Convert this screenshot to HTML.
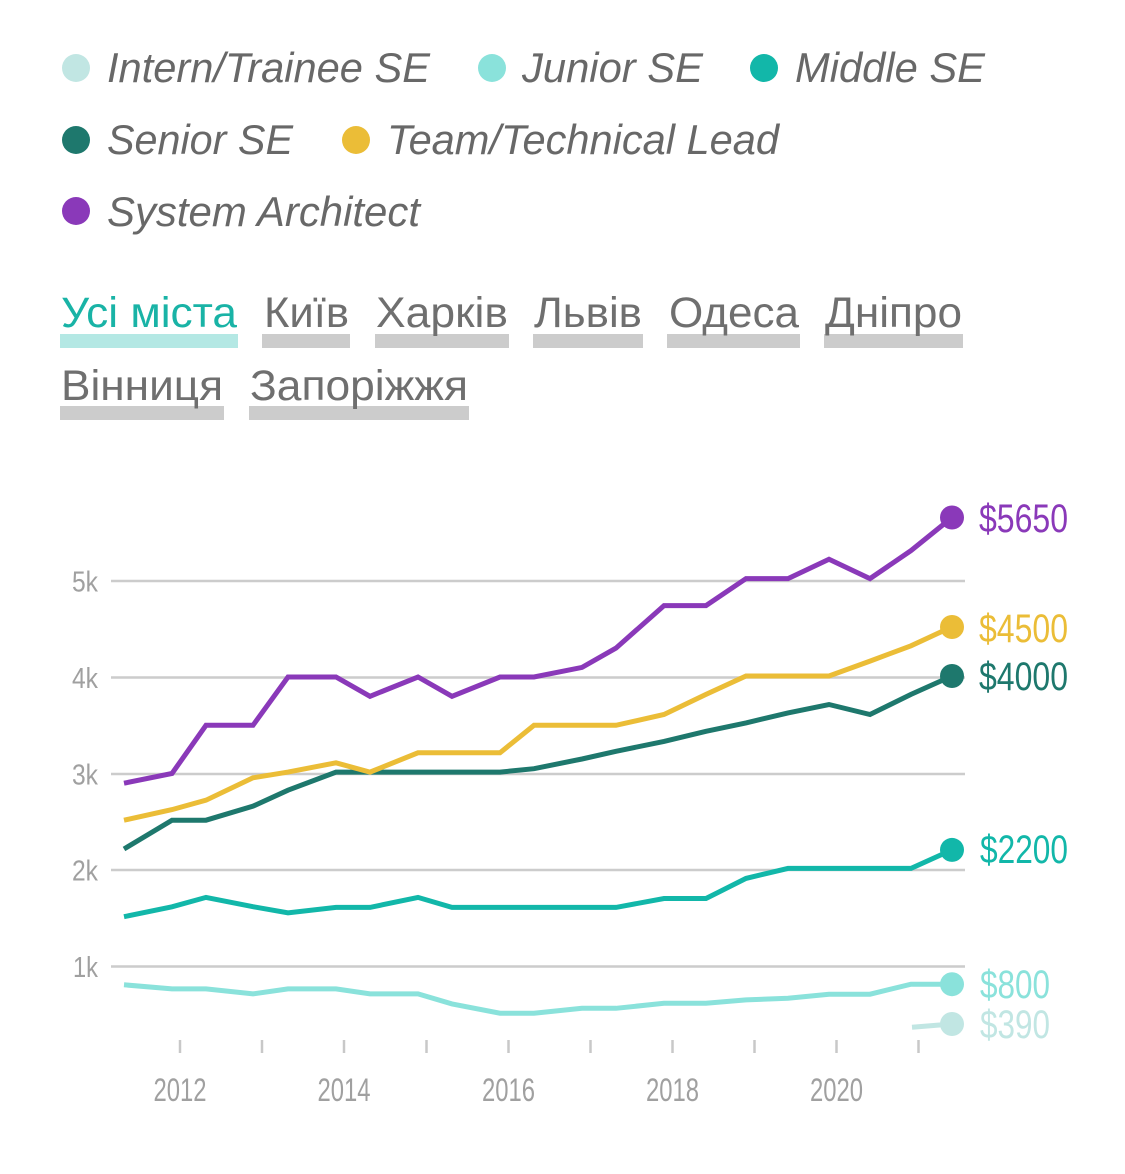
<!DOCTYPE html>
<html><head><meta charset="utf-8"><style>
html,body{margin:0;padding:0;background:#fff;}
svg{display:block;}
.lg{font-family:"Liberation Sans",Arial,sans-serif;font-style:italic;font-size:41.5px;fill:#686868;}
.tb{font-family:"Liberation Sans",Arial,sans-serif;font-size:43px;fill:#6f6f6f;}
.ax{font-family:"Liberation Sans Narrow","Liberation Sans",sans-serif;fill:#a0a0a0;}
.vl{font-family:"Liberation Sans Narrow","Liberation Sans",sans-serif;font-size:40px;}
</style></head><body>
<svg width="1125" height="1174" viewBox="0 0 1125 1174" xmlns="http://www.w3.org/2000/svg">
<rect width="1125" height="1174" fill="#fff"/>
<!-- Legend -->
<circle cx="76" cy="68" r="14" fill="#c1e6e3"/>
<text class="lg" x="107" y="82" textLength="323" lengthAdjust="spacingAndGlyphs">Intern/Trainee SE</text>
<circle cx="492" cy="68" r="14" fill="#8ae2db"/>
<text class="lg" x="522" y="82" textLength="181" lengthAdjust="spacingAndGlyphs">Junior SE</text>
<circle cx="764" cy="68" r="14" fill="#12b7a9"/>
<text class="lg" x="795" y="82" textLength="190" lengthAdjust="spacingAndGlyphs">Middle SE</text>
<circle cx="76" cy="140" r="14" fill="#1e786d"/>
<text class="lg" x="107" y="154" textLength="186" lengthAdjust="spacingAndGlyphs">Senior SE</text>
<circle cx="356" cy="140" r="14" fill="#ebbd37"/>
<text class="lg" x="387" y="154" textLength="392" lengthAdjust="spacingAndGlyphs">Team/Technical Lead</text>
<circle cx="76" cy="211" r="14" fill="#8a39b9"/>
<text class="lg" x="107" y="226" textLength="313" lengthAdjust="spacingAndGlyphs">System Architect</text>

<!-- Tabs -->
<rect x="60" y="334" width="178" height="14" fill="#b4e8e4"/>
<text class="tb" x="61" y="327" textLength="176" lengthAdjust="spacingAndGlyphs" style="fill:#19b3a6">Усі міста</text>
<rect x="262" y="334" width="88" height="14" fill="#cccccc"/>
<text class="tb" x="264" y="327" textLength="85" lengthAdjust="spacingAndGlyphs">Київ</text>
<rect x="375" y="334" width="134" height="14" fill="#cccccc"/>
<text class="tb" x="376" y="327" textLength="132" lengthAdjust="spacingAndGlyphs">Харків</text>
<rect x="533" y="334" width="110" height="14" fill="#cccccc"/>
<text class="tb" x="534" y="327" textLength="108" lengthAdjust="spacingAndGlyphs">Львів</text>
<rect x="667" y="334" width="133" height="14" fill="#cccccc"/>
<text class="tb" x="669" y="327" textLength="130" lengthAdjust="spacingAndGlyphs">Одеса</text>
<rect x="824" y="334" width="139" height="14" fill="#cccccc"/>
<text class="tb" x="825" y="327" textLength="137" lengthAdjust="spacingAndGlyphs">Дніпро</text>
<rect x="60" y="406" width="164" height="14" fill="#cccccc"/>
<text class="tb" x="61" y="400" textLength="162" lengthAdjust="spacingAndGlyphs">Вінниця</text>
<rect x="249" y="406" width="220" height="14" fill="#cccccc"/>
<text class="tb" x="250" y="400" textLength="218" lengthAdjust="spacingAndGlyphs">Запоріжжя</text>

<!-- Gridlines -->
<g stroke="#cccccc" stroke-width="2.5">
<line x1="111" y1="581" x2="965" y2="581"/>
<line x1="111" y1="677.5" x2="965" y2="677.5"/>
<line x1="111" y1="774" x2="965" y2="774"/>
<line x1="111" y1="870" x2="965" y2="870"/>
<line x1="111" y1="966.5" x2="965" y2="966.5"/>
</g>
<g class="ax" font-size="29" text-anchor="end">
<text x="98" y="591.5" textLength="26" lengthAdjust="spacingAndGlyphs">5k</text>
<text x="98" y="688" textLength="26" lengthAdjust="spacingAndGlyphs">4k</text>
<text x="98" y="784.5" textLength="26" lengthAdjust="spacingAndGlyphs">3k</text>
<text x="98" y="880.5" textLength="26" lengthAdjust="spacingAndGlyphs">2k</text>
<text x="98" y="977" textLength="25" lengthAdjust="spacingAndGlyphs">1k</text>
</g>
<!-- X ticks -->
<g stroke="#c8c8c8" stroke-width="2.5">
<line x1="180" y1="1040" x2="180" y2="1053"/>
<line x1="262" y1="1040" x2="262" y2="1053"/>
<line x1="344" y1="1040" x2="344" y2="1053"/>
<line x1="426.5" y1="1040" x2="426.5" y2="1053"/>
<line x1="508.5" y1="1040" x2="508.5" y2="1053"/>
<line x1="590.5" y1="1040" x2="590.5" y2="1053"/>
<line x1="672.5" y1="1040" x2="672.5" y2="1053"/>
<line x1="754.5" y1="1040" x2="754.5" y2="1053"/>
<line x1="836.5" y1="1040" x2="836.5" y2="1053"/>
<line x1="918.5" y1="1040" x2="918.5" y2="1053"/>
</g>
<g class="ax" font-size="32" text-anchor="middle">
<text x="180" y="1101" textLength="53" lengthAdjust="spacingAndGlyphs">2012</text>
<text x="344" y="1101" textLength="53" lengthAdjust="spacingAndGlyphs">2014</text>
<text x="508.5" y="1101" textLength="53" lengthAdjust="spacingAndGlyphs">2016</text>
<text x="672.5" y="1101" textLength="53" lengthAdjust="spacingAndGlyphs">2018</text>
<text x="836.5" y="1101" textLength="53" lengthAdjust="spacingAndGlyphs">2020</text>
</g>

<!-- Series -->
<g fill="none" stroke-width="5" stroke-linejoin="miter" stroke-linecap="butt">
<polyline stroke="#c1e6e3" points="912,1027.3 952,1024"/>
<polyline stroke="#8ae2db" points="124,984.8 172,988.9 206,988.9 253,993.9 288,988.9 336,988.9 370,993.9 418,993.9 452,1003.9 500,1013.2 534,1013.2 582,1008.3 616,1008.3 664,1003.3 706,1003.3 746,999.9 788,998.2 829,994.2 870,994.2 911,984.2 952,984.2"/>
<polyline stroke="#12b7a9" points="124,916.7 172,906.8 206,897.4 253,906.7 288,912.8 336,907.4 370,907.4 418,897.4 452,907.4 500,907.4 534,907.4 582,907.4 616,907.4 664,898.5 706,898.5 746,878.4 788,868.4 829,868.4 870,868.4 911,868.4 952,849.9"/>
<polyline stroke="#1e786d" points="124,849 172,820.2 206,820.2 253,806.2 288,790.2 336,772.1 370,772.1 418,772.1 452,772.1 500,772.1 534,768.7 582,759 616,751.3 664,741.4 706,731.3 746,722.9 788,712.9 829,704.5 870,714.5 911,694.4 952,676"/>
<polyline stroke="#ebbd37" points="124,820.2 172,809.6 206,800.2 253,777.8 288,772.1 336,762.8 370,772.1 418,752.8 452,752.8 500,752.8 534,725.3 582,725.3 616,725.3 664,714.5 706,694.4 746,676 788,676 829,676 870,661.1 911,645.8 952,626.8"/>
<polyline stroke="#8a39b9" points="124,783.2 172,773.5 206,725.3 253,725.3 288,677 336,677 370,696.3 418,677 452,696.3 500,677 534,677 582,667.4 616,648.1 664,605.6 706,605.6 746,578.6 788,578.6 829,559.3 870,578.6 911,550.6 952,517.5"/>
</g>
<!-- End dots -->
<circle cx="952" cy="1024" r="12" fill="#c1e6e3"/>
<circle cx="952" cy="984.2" r="12" fill="#8ae2db"/>
<circle cx="952" cy="849.9" r="12" fill="#12b7a9"/>
<circle cx="952" cy="676" r="12" fill="#1e786d"/>
<circle cx="952" cy="627" r="12" fill="#ebbd37"/>
<circle cx="952" cy="517.5" r="12" fill="#8a39b9"/>
<!-- Value labels -->
<text class="vl" x="979" y="532" textLength="89" lengthAdjust="spacingAndGlyphs" fill="#8a39b9">$5650</text>
<text class="vl" x="979" y="642" textLength="89" lengthAdjust="spacingAndGlyphs" fill="#ebbd37">$4500</text>
<text class="vl" x="979" y="690" textLength="89" lengthAdjust="spacingAndGlyphs" fill="#1e786d">$4000</text>
<text class="vl" x="980" y="863" textLength="88" lengthAdjust="spacingAndGlyphs" fill="#12b7a9">$2200</text>
<text class="vl" x="980" y="998" textLength="70" lengthAdjust="spacingAndGlyphs" fill="#8ae2db">$800</text>
<text class="vl" x="980" y="1038" textLength="70" lengthAdjust="spacingAndGlyphs" fill="#c1e6e3">$390</text>
</svg>
</body></html>
